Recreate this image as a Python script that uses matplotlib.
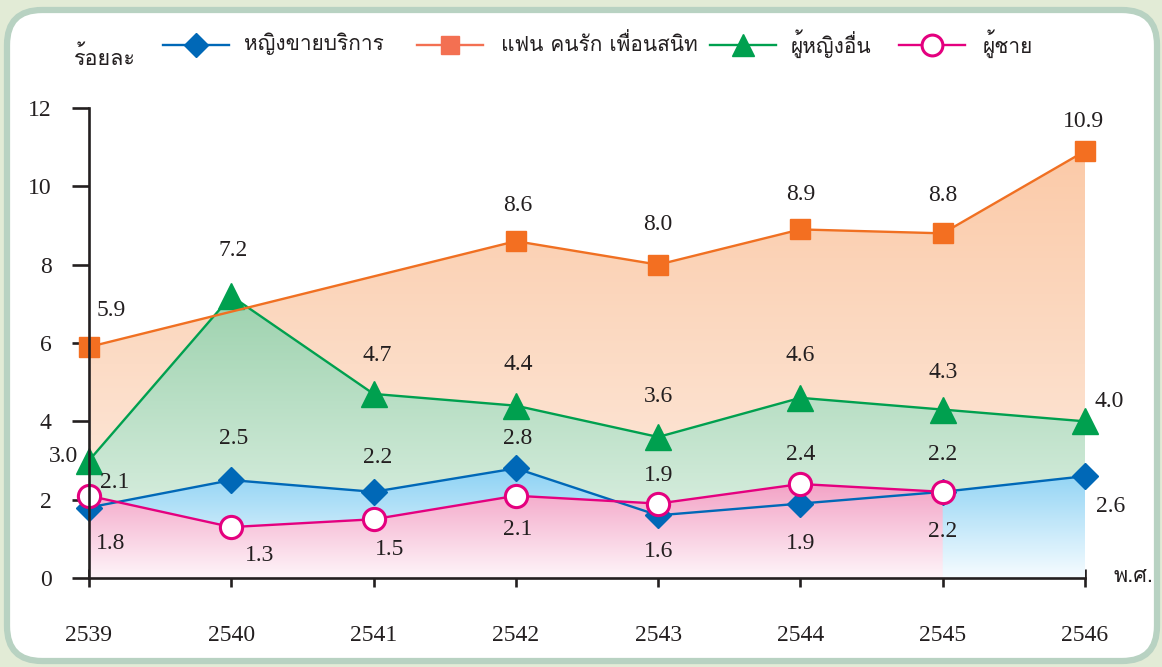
import matplotlib
matplotlib.use("Agg")
import matplotlib.pyplot as plt
import numpy as np
from matplotlib import font_manager as fm
from matplotlib.ft2font import FT2Font
from matplotlib.lines import Line2D
from matplotlib.patches import FancyBboxPatch
from matplotlib.colors import to_rgb

# %% data
years = [2539, 2540, 2541, 2542, 2543, 2544, 2545, 2546]
series_names = ["หญิงขายบริการ", "แฟน คนรัก เพื่อนสนิท", "ผู้หญิงอื่น", "ผู้ชาย"]
sex_worker = [1.8, 2.5, 2.2, 2.8, 1.6, 1.9, 2.2, 2.6]
partner = [5.9, None, None, 8.6, 8.0, 8.9, 8.8, 10.9]
other_women = [3.0, 7.2, 4.7, 4.4, 3.6, 4.6, 4.3, 4.0]
men = [2.1, 1.3, 1.5, 2.1, 1.9, 2.4, 2.2, None]
y_ticks = [0, 2, 4, 6, 8, 10, 12]


def thai_family():
    """first installed family that has Thai glyphs"""
    for f in fm.fontManager.ttflist:
        try:
            if ord("ห") in FT2Font(f.fname).get_charmap():
                return f.name
        except Exception:
            pass
    return "DejaVu Sans"


THAI = [thai_family(), "DejaVu Sans"]
NUM = "Liberation Serif"
W, H = 1162, 667


def fx(px):
    return px / W


def fy(py):
    return 1 - py / H


def valid(xs, ys):
    pts = [(x, y) for x, y in zip(xs, ys) if y is not None]
    return np.array([p[0] for p in pts]), np.array([p[1] for p in pts])


def grad_fill(ax, x, y, c_top, c_bot, z):
    poly = ax.fill_between(x, y, 0, color="none", lw=0)
    g = np.linspace(0, 1, 256)[:, None, None]
    img = (1 - g) * np.array(to_rgb(c_top)) + g * np.array(to_rgb(c_bot))
    im = ax.imshow(img, extent=[x[0], x[-1], 0, max(y)], aspect="auto",
                   origin="upper", zorder=z, interpolation="bilinear")
    im.set_clip_path(poly.get_paths()[0], transform=ax.transData)


fig = plt.figure(figsize=(W / 100, H / 100), dpi=100)
fig.patch.set_facecolor("#e2ebd6")
panel = FancyBboxPatch((fx(7), fy(661)), fx(1150), 1 - fy(661) - (1 - fy(10)),
                       boxstyle="round,pad=0,rounding_size=0.03",
                       transform=fig.transFigure, facecolor="white",
                       edgecolor="#b8d2c2", linewidth=4.5, zorder=0,
                       mutation_aspect=W / H)
fig.add_artist(panel)

ax = fig.add_axes([fx(89), fy(578), fx(1085) - fx(89), fy(108) - fy(578)])
ax.set_facecolor("none")

styles = [
    dict(color="#0068b7", marker="D", ms=13, mfc="#0068b7", mec="#0068b7"),
    dict(color="#f07022", marker="s", ms=15, mfc="#f36f21", mec="#f36f21"),
    dict(color="#00a04f", marker="^", ms=19, mfc="#00a04f", mec="#00a04f"),
    dict(color="#e4007f", marker="o", ms=16, mfc="white", mec="#e4007f", mew=2.2),
]
fills = [
    ("#8dd2f4", "#f6fcff", 5),
    ("#fbcaa8", "#fdeee4", 3),
    ("#9dd2ae", "#e8f5ec", 4),
    ("#f3a3c6", "#fef5f9", 6),
]
data = [sex_worker, partner, other_women, men]

# fills (orange behind, then green, blue, pink)
for vals, (ct, cb, z) in zip(data, fills):
    x, y = valid(years, vals)
    grad_fill(ax, x, y, ct, cb, z)

line_z = [12, 11, 10, 13]
for vals, st, z in zip(data, styles, line_z):
    x, y = valid(years, vals)
    ax.plot(x, y, lw=1.7, clip_on=False, zorder=z, **st)

# value labels, offsets in pixels
offsets = [
    [(22, -36), (2, 42), (4, 34), (2, 30), (0, -36), (0, -40), (0, -40), (26, -30)],
    [(22, 36), None, None, (2, 36), (0, 40), (0, 35), (0, 38), (-2, 30)],
    [(-26, 4), (2, 45), (4, 38), (2, 41), (0, 40), (0, 42), (0, 37), (24, 20)],
    [(26, 13), (28, -28), (16, -30), (2, -34), (0, 28), (0, 29), (0, 37), None],
]
for vals, offs in zip(data, offsets):
    for x, v, o in zip(years, vals, offs):
        if v is None:
            continue
        ax.annotate(f"{v:.1f}", (x, v), xytext=o, textcoords="offset pixels",
                    ha="center", va="center", fontsize=17, family=NUM,
                    color="#231f20", zorder=20)

ax.set_xlim(years[0], years[-1])
ax.set_ylim(0, 12)
ax.set_xticks(years)
ax.set_xticklabels([str(y) for y in years], family=NUM, fontsize=17)
ax.set_yticks(y_ticks)
ax.set_yticklabels([str(t) for t in y_ticks], family=NUM, fontsize=17)
for s in ["top", "right"]:
    ax.spines[s].set_visible(False)
for s in ["left", "bottom"]:
    ax.spines[s].set_linewidth(1.9)
    ax.spines[s].set_color("#231f20")
    ax.spines[s].set_zorder(15)
ax.tick_params(axis="y", direction="out", length=12, width=1.9, pad=15,
               color="#231f20", labelcolor="#231f20")
ax.tick_params(axis="x", direction="inout", length=13, width=1.9, pad=27,
               color="#231f20", labelcolor="#231f20")

fig.text(fx(105), fy(58), "ร้อยละ", family=THAI, fontsize=15.5,
         ha="center", va="center", color="#231f20")
fig.text(fx(1133), fy(577), "พ.ศ.", family=THAI, fontsize=15.5,
         ha="center", va="center", color="#231f20")

# legend drawn by hand
leg_x = [163, 417, 710, 899]
leg_text_x = [244, 501, 791, 983]
leg_ms = [12, 13, 16, 15]
leg_colors = ["#0068b7", "#f37052", "#00a04f", "#e4007f"]
for st, lx, tx, name, ms, c in zip(styles, leg_x, leg_text_x, series_names,
                                     leg_ms, leg_colors):
    kw = dict(st)
    kw["ms"] = ms
    kw["color"] = c
    if kw["mfc"] != "white":
        kw["mfc"] = c
    kw["mec"] = c
    fig.add_artist(Line2D([fx(lx), fx(lx + 66)], [fy(45), fy(45)], lw=1.7,
                          markevery=[], transform=fig.transFigure, **kw))
    fig.add_artist(Line2D([fx(lx + 33)], [fy(45)], lw=0,
                          transform=fig.transFigure, **kw))
    fig.text(fx(tx), fy(44), name, family=THAI, fontsize=15, ha="left",
             va="center", color="#231f20")

fig.savefig("out.png", dpi=100, facecolor=fig.get_facecolor())
